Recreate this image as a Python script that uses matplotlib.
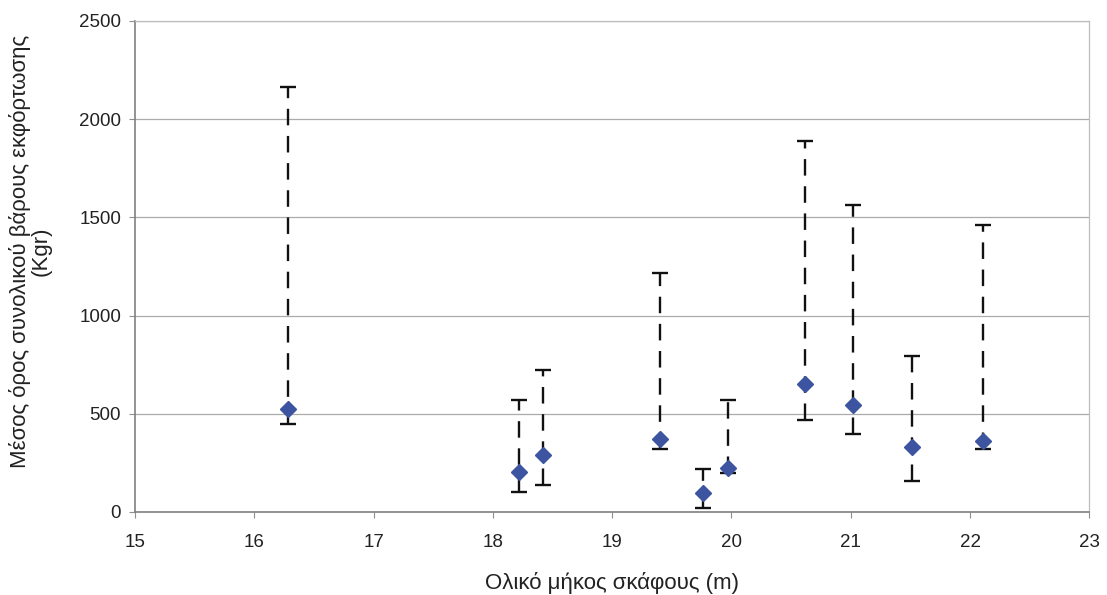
import matplotlib.pyplot as plt
import numpy as np

plt.rcParams['font.family'] = ['Liberation Sans', 'DejaVu Sans']

# Vessel length (m), mean landing weight (Kgr) with lower / upper bounds
length = [16.28, 18.22, 18.42, 19.40, 19.76, 19.97, 20.62, 21.02, 21.51, 22.11]
mean_weight = [525, 206, 291, 372, 95, 223, 653, 546, 333, 359]
lower = [447, 100, 138, 320, 19, 197, 466, 398, 160, 320]
upper = [2165, 571, 724, 1214, 218, 571, 1889, 1563, 796, 1459]

x_ticks = [15, 16, 17, 18, 19, 20, 21, 22, 23]
y_ticks = [0, 500, 1000, 1500, 2000, 2500]

mean_weight = np.array(mean_weight)
yerr = [mean_weight - np.array(lower), np.array(upper) - mean_weight]

fig = plt.figure(figsize=(11.07, 5.95), dpi=100)
ax = fig.add_axes([0.122, 0.1395, 0.862, 0.8255])

# Error bars: dashed stems with solid caps
eb = ax.errorbar(length, mean_weight, yerr=yerr, fmt='none', ecolor='#111111',
                 elinewidth=1.7, capsize=6, capthick=1.7, zorder=3)
for lc in eb[2]:
    lc.set_linestyle((0, (7, 4.5)))

ax.plot(length, mean_weight, linestyle='none', marker='D', markersize=8.5,
        color='#3D54A0', markeredgecolor='#3D54A0', zorder=4)

ax.set_xlim(15, 23)
ax.set_ylim(0, 2500)
ax.set_xticks(x_ticks)
ax.set_yticks(y_ticks)
ax.yaxis.grid(True, color='#ABABAB', linewidth=0.9)
ax.set_axisbelow(True)

for side in ['top', 'right']:
    ax.spines[side].set_color('#BDBDBD')
    ax.spines[side].set_linewidth(0.9)
for side in ['left', 'bottom']:
    ax.spines[side].set_color('#808080')
    ax.spines[side].set_linewidth(1.2)

ax.tick_params(axis='both', labelsize=13.5, colors='#909090', labelcolor='#222222',
               length=4, width=0.8)
ax.tick_params(axis='x', pad=12)
ax.tick_params(axis='y', pad=6)

ax.set_xlabel('Ολικό μήκος σκάφους (m)', fontsize=16, color='#222222', labelpad=15)
ax.set_ylabel('Μέσος όρος συνολικού βάρους εκφόρτωσης\n(Kgr)', fontsize=16,
              color='#222222', linespacing=1.0)
ax.yaxis.set_label_coords(-0.087, 0.53)

fig.savefig('out.png', dpi=100)
